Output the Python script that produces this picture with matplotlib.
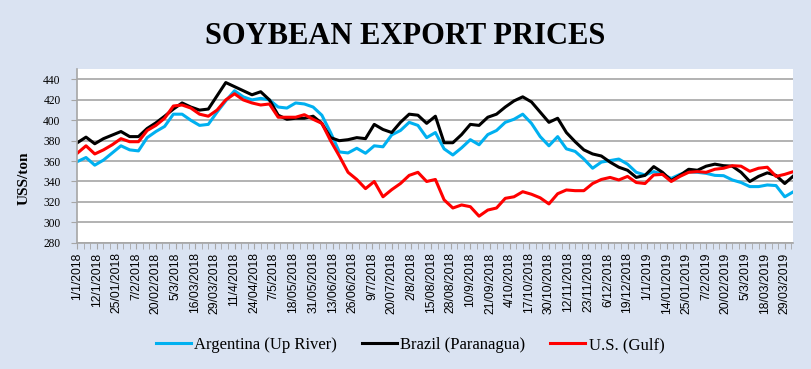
import numpy as np
import matplotlib.pyplot as plt
from matplotlib.ticker import FixedLocator

# business-day index (0 = 1/1/2018), one reading every 4 trading days
day_idx = list(range(0, 329, 4))

argentina = [359.5, 363.5, 356, 361, 368, 375, 371, 370, 383, 389,
             394, 406, 406, 400, 395, 396, 408, 419, 429, 423,
             420, 421.5, 420, 413, 412, 417, 416, 413, 405, 388,
             369, 368, 372.6, 367.7, 375, 374, 385.7, 390, 398, 395,
             383, 388, 372, 366, 373, 381, 376, 386, 390, 398,
             401, 406, 397, 384, 375, 384, 372, 369.5, 362, 353,
             359, 360.5, 362, 357, 349, 346.4, 349.7, 347, 343, 347,
             349.5, 349, 348, 346, 345.7, 341.5, 339, 335, 335, 336.6,
             336, 325, 330]
brazil = [378, 383.5, 377, 382, 385.5, 389, 384, 384, 392, 397.5,
          404, 411, 417, 413, 410, 411, 424, 437, 433, 429,
          425, 428, 420, 405, 401, 402, 402, 404, 397, 383,
          380, 381, 383, 382, 396, 391, 388, 398, 406, 405,
          397, 404, 378, 378, 386, 396, 395, 403, 406, 413,
          419, 423, 418, 408, 398, 402, 388, 379, 371, 367,
          365, 359, 354, 351, 344, 346, 354.6, 349, 341, 346,
          352, 351, 355, 357, 355.5, 355, 349, 340, 345, 348.5,
          346, 338, 345.5]
us_gulf = [367.7, 375, 367, 371, 376, 382, 379, 379, 390, 395,
           402, 414, 415, 412, 406, 404, 410, 420, 426, 420,
           417, 415, 416, 403, 403, 403, 405.5, 401, 397, 380,
           365, 349, 342, 333, 340, 325, 332, 338, 346, 349,
           340, 342, 322, 314, 317, 315.3, 306, 312, 314, 323.5,
           325, 330, 327.5, 324, 318, 328, 331.7, 331, 331, 338,
           342, 344, 341.5, 345, 339, 338, 346.4, 347, 340, 345,
           349, 349.7, 349, 352, 353, 355.5, 355, 350, 353, 354,
           345, 347, 349.7]

tick_labels = ["1/1/2018", "12/1/2018", "25/01/2018", "7/2/2018", "20/02/2018",
               "5/3/2018", "16/03/2018", "29/03/2018", "11/4/2018", "24/04/2018",
               "7/5/2018", "18/05/2018", "31/05/2018", "13/06/2018", "26/06/2018",
               "9/7/2018", "20/07/2018", "2/8/2018", "15/08/2018", "28/08/2018",
               "10/9/2018", "21/09/2018", "4/10/2018", "17/10/2018", "30/10/2018",
               "12/11/2018", "23/11/2018", "6/12/2018", "19/12/2018", "1/1/2019",
               "14/01/2019", "25/01/2019", "7/2/2019", "20/02/2019", "5/3/2019",
               "18/03/2019", "29/03/2019"]
tick_pos = [i * 9 for i in range(len(tick_labels))]

serif = "Liberation Serif"
bg = "#DAE3F2"
grid_c = "#A6A6A6"

fig = plt.figure(figsize=(8.11, 3.69), dpi=100, facecolor=bg)
ax = fig.add_axes([0.0953, 0.3423, 0.8831, 0.4699])
ax.set_facecolor("white")

ax.plot(day_idx, argentina, color="#00B0F0", lw=2.2, label="Argentina (Up River)")
ax.plot(day_idx, brazil, color="black", lw=2.2, label="Brazil (Paranagua)")
ax.plot(day_idx, us_gulf, color="#FF0000", lw=2.2, label="U.S. (Gulf)")

ax.set_xlim(0, 328)
ax.set_ylim(280, 450)
ax.set_yticks(range(280, 441, 20))
ax.yaxis.grid(True, color=grid_c, lw=1.2)
ax.set_axisbelow(True)

ax.set_xticks(tick_pos)
ax.set_xticklabels(tick_labels, rotation=90, fontsize=8.8, family="Liberation Sans")
ax.xaxis.set_minor_locator(FixedLocator([p for p in range(0, 329, 3) if p % 9]))
ax.tick_params(axis="x", which="both", length=4, color=grid_c, pad=3)
ax.tick_params(axis="y", length=4, color=grid_c, pad=8, labelsize=8.3)
for lab in ax.get_yticklabels():
    lab.set_family(serif)

for s in ["top", "right"]:
    ax.spines[s].set_visible(False)
for s in ["left", "bottom"]:
    ax.spines[s].set_color(grid_c)
    ax.spines[s].set_linewidth(1.2)

fig.text(0.5, 0.881, "SOYBEAN EXPORT PRICES", ha="center", va="baseline",
         fontsize=22, fontweight="bold", family=serif)
fig.text(0.030, 0.518, "USS/ton", rotation=90, ha="center", va="center",
         fontsize=11, fontweight="bold", family=serif)

fig.legend(loc="center", bbox_to_anchor=(0.5055, 0.065), ncol=3, frameon=False,
           prop={"family": serif, "size": 12}, handlelength=2.1,
           handletextpad=0.2, columnspacing=1.5)

fig.savefig("out.png", dpi=100, facecolor=bg)
